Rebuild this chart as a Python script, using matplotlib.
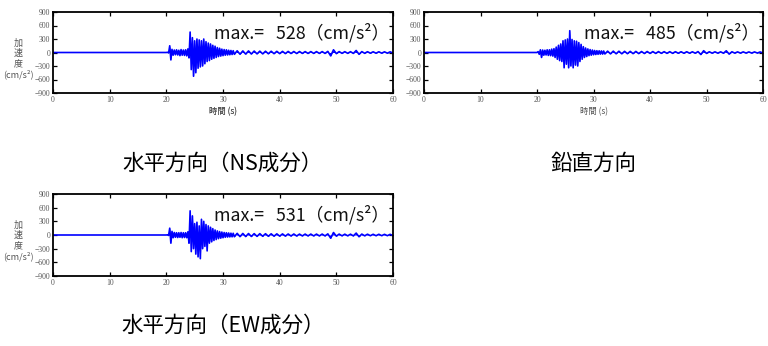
import numpy as np
import matplotlib.pyplot as plt

plt.rcParams['font.family'] = ['Noto Sans CJK JP', 'DejaVu Sans']

# 加速度波形 (cm/s2) : 主要動は 20.0 秒から 0.2 秒刻み, 後続部は 32.0 秒から 0.5 秒刻み
MAIN_T0, MAIN_DT = 20.0, 0.2
TAIL_T0, TAIL_DT = 32.0, 0.5

ns_main = [0, 5, -10, 150, -165, 70, -60, 55, -50, 60,
           -55, 50, -70, 65, -60, 55, -65, 60, -75, 80,
           -120, 455, -380, 330, -528, 260, -450, 300, -350, 280,
           -320, 260, -300, 300, -250, 240, -200, 210, -180, 190,
           -150, 160, -130, 140, -110, 110, -90, 95, -80, 75,
           -70, 65, -60, 60, -55, 50, -50, 45, -45, 40]
ns_tail = [-40, 38, -38, 35, -35, 35, -33, 32, -30, 30,
           -30, 28, -28, 28, -26, 26, -25, 25, -24, 24,
           -22, 22, -22, 22, -20, 20, -20, 20, -20, 20,
           -20, 20, -20, 25, -75, 60, -25, 20, -18, 18,
           -18, 18, -20, 45, -40, 20, -18, 18, -16, 16,
           -16, 16, -15, 15, -15, 15, -14]

ud_main = [0, 20, -40, 60, -110, 55, -60, 50, -55, 60,
           -65, 60, -70, 75, -80, 85, -110, 120, -150, 160,
           -180, 190, -200, 260, -340, 280, -260, 300, -340, 485,
           -300, 290, -340, 260, -280, 250, -300, 220, -200, 180,
           -150, 130, -110, 100, -90, 80, -70, 65, -60, 55,
           -50, 45, -45, 40, -40, 38, -36, 35, -35, 33]
ud_tail = [-32, 30, -30, 30, -28, 28, -28, 26, -26, 25,
           -25, 24, -24, 22, -22, 22, -20, 20, -20, 20,
           -18, 18, -18, 18, -18, 18, -17, 17, -17, 17,
           -16, 16, -16, 20, -45, 40, -20, 16, -15, 15,
           -15, 15, -16, 38, -35, 16, -14, 14, -14, 14,
           -13, 13, -13, 13, -12, 12, -12]

ew_main = [0, 5, -10, 150, -180, 80, -60, 55, -50, 50,
           -55, 50, -50, 55, -60, 50, -55, 50, -60, 70,
           -180, 531, -365, 420, -300, 250, -420, 280, -480, 200,
           -520, 345, -300, 300, -250, 230, -350, 200, -180, 170,
           -150, 140, -120, 110, -100, 90, -80, 75, -70, 65,
           -60, 55, -50, 50, -45, 45, -42, 40, -40, 38]
ew_tail = [-38, 36, -36, 34, -34, 32, -32, 30, -30, 30,
           -28, 28, -28, 26, -26, 25, -25, 24, -24, 22,
           -22, 22, -22, 20, -20, 20, -20, 20, -20, 20,
           -20, 20, -20, 25, -70, 55, -25, 20, -18, 18,
           -18, 18, -20, 42, -38, 20, -18, 18, -16, 16,
           -16, 16, -15, 15, -15, 15, -14]

max_values = [528, 485, 531]
titles = ['水平方向（NS成分）', '鉛直方向', '水平方向（EW成分）']
x_ticks = [0, 10, 20, 30, 40, 50, 60]
y_ticks = [-900, -600, -300, 0, 300, 600, 900]

W, H = 768, 346
TICK_FONT = ['Liberation Serif', 'DejaVu Serif']
GRAY = '#555555'
BLUE = '#0000ff'


def draw_wave(rect, main, tail, peak, title, title_y, show_ylabel=True):
    """1つの加速度波形パネルを描く (rect はピクセル: left, top, right, bottom)"""
    l, t, r, b = rect
    ax = fig.add_axes([l / W, 1 - b / H, (r - l) / W, (b - t) / H])

    time = np.concatenate([[0.0],
                           MAIN_T0 + MAIN_DT * np.arange(len(main)),
                           TAIL_T0 + TAIL_DT * np.arange(len(tail))])
    acc = np.concatenate([[0.0], main, tail])
    ax.fill_between(time, acc, 0, color=BLUE, lw=0)
    ax.plot(time, acc, color=BLUE, lw=1.2)

    ax.set_xlim(0, 60)
    ax.set_ylim(-900, 900)
    ax.set_xticks(x_ticks)
    ax.set_yticks(y_ticks)
    ax.tick_params(direction='in', top=True, right=True, length=3, width=0.9,
                   pad=2, labelsize=5.5, labelcolor=GRAY)
    for lab in ax.get_xticklabels() + ax.get_yticklabels():
        lab.set_family(TICK_FONT)
    for sp in ax.spines.values():
        sp.set_linewidth(1.3)

    ax.text(0.99, 0.75, f'max.=   {peak}（cm/s²）', transform=ax.transAxes,
            ha='right', va='center', fontsize=12.8, color='#111111')

    # 軸ラベル
    ax.text(0.5, -(112 - b) / (b - t), '時間 (s)', transform=ax.transAxes,
            ha='center', va='center', fontsize=6, color=GRAY)
    if show_ylabel:
        fig.text(18 / W, 1 - (t + 47) / H, '加\n速\n度\n(cm/s²)', ha='center', va='center',
                 fontsize=6.5, color=GRAY, linespacing=1.2, multialignment='center')

    # パネル下のタイトル
    fig.text((l + r) / 2 / W, 1 - title_y / H, title, ha='center', va='center',
             fontsize=15.5, color='black')
    return ax


fig = plt.figure(figsize=(W / 100, H / 100), dpi=100)

draw_wave((53, 12, 393, 93), ns_main, ns_tail, max_values[0], titles[0], 164)
draw_wave((424, 12, 763, 93), ud_main, ud_tail, max_values[1], titles[1], 164, show_ylabel=False)
draw_wave((53, 194, 393, 276), ew_main, ew_tail, max_values[2], titles[2], 326)

plt.savefig('out.png', dpi=100)
plt.close()
